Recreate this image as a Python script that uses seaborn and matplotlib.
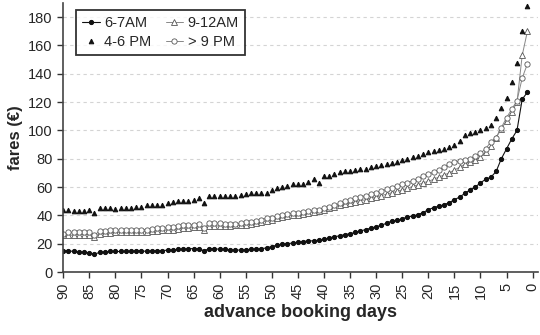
import numpy as np
import pandas as pd
import seaborn as sns
import matplotlib.pyplot as plt

# advance booking days, 90 down to 1
days = list(range(90, 0, -1))

am_6_7 = [15, 15, 14.5, 14, 14, 13.5, 12.5, 14, 14, 14.5,
          14.5, 14.5, 14.5, 14.5, 15, 15, 14.5, 15, 15, 15,
          15.5, 15.5, 16, 16, 16.5, 16.5, 16.5, 15, 16.5, 16.5,
          16, 16, 15.5, 15.5, 15.5, 15.5, 16, 16, 16.5, 17,
          18, 19, 19.5, 20, 20.5, 21, 21.5, 22, 22, 22.5,
          23, 24, 25, 25.5, 26.5, 27, 28, 29, 30, 31,
          32, 33, 34.5, 36, 36.5, 37.5, 39, 39.5, 40.5, 42,
          44, 45.5, 46.5, 47.5, 49, 51, 53, 55.5, 58, 60,
          63, 65.5, 67, 71, 80, 87, 94, 100, 122, 127]

am_9_12 = [26, 26, 26, 26.5, 26.5, 26.5, 25, 27, 27.5, 27.5,
           28, 28, 28, 28, 28.5, 28.5, 28.5, 29, 29, 29.5,
           29.5, 30, 30.5, 31, 31, 31.5, 32, 29.5, 32.5, 32.5,
           32.5, 32.5, 32.5, 33, 33, 33.5, 34, 34.5, 35.5, 36,
           37, 38, 39, 39.5, 40, 40.5, 41, 42, 42.5, 43,
           44, 45, 46, 47, 48, 48.5, 49.5, 50.5, 51, 52,
           53, 54, 55, 56, 57, 58, 59, 60.5, 61.5, 63,
           64, 65.5, 67, 68.5, 70, 72, 74, 76, 78, 79,
           81, 85, 89, 95, 101, 107, 113, 120, 153, 170]

pm_4_6 = [44, 43.5, 43, 43, 43, 44, 41.5, 45, 45, 45,
          44.5, 45, 45, 45, 46, 46, 47, 47, 47, 47,
          49, 49.5, 50, 50, 50.5, 51, 52, 49, 53.5, 53.5,
          53.5, 53.5, 53.5, 54, 54.5, 55, 55.5, 55.5, 55.5, 56,
          58, 59, 60, 61, 62, 62, 62.5, 63.5, 65.5, 63,
          67.5, 68, 69.5, 70.5, 71, 71.5, 72, 72.5, 73, 74,
          75, 75.5, 76, 77, 78, 79, 80, 81, 82, 83.5,
          85, 85.5, 86, 87, 88, 90, 92.5, 96.5, 98, 99,
          100, 101.5, 104, 109, 116, 123, 134, 147.5, 170, 188]

pm_9 = [27, 28, 28, 28, 28, 28, 26, 29, 29, 29.5,
        29.5, 29.5, 29.5, 29.5, 30, 30, 30, 30.5, 31, 31,
        31.5, 32, 32.5, 33, 33, 33.5, 34, 31, 34.5, 34.5,
        34.5, 34, 34, 34, 34.5, 35, 35.5, 36, 37, 38,
        38.5, 39.5, 40.5, 41, 41.5, 42, 42.5, 43, 43.5, 44,
        45, 46, 47, 48.5, 50, 51, 52, 53, 54, 55,
        56, 57, 58.5, 59.5, 60.5, 62, 63, 64.5, 66, 67.5,
        69, 70.5, 72, 74, 76, 77.5, 78.5, 79, 80, 82,
        84, 87, 92, 95, 102, 109, 115, 121, 137, 147]

df = pd.DataFrame({"days": days, "6-7AM": am_6_7, "9-12AM": am_9_12,
                   "4-6 PM": pm_4_6, "> 9 PM": pm_9})

sns.set_style("white")
plt.rcParams["font.family"] = ["Liberation Sans", "DejaVu Sans"]

fig = plt.figure(figsize=(5.4, 3.35), dpi=100)
ax = fig.add_axes([0.117, 0.188, 0.879, 0.803])

ax.yaxis.grid(True, color="#d4d4d4", linestyle=(0, (3, 3)), linewidth=0.8)
ax.set_axisbelow(True)

sns.lineplot(data=df, x="days", y="6-7AM", ax=ax, color="#111111", lw=0.8,
             marker="o", markersize=3, markeredgecolor="#111111",
             label="6-7AM")
sns.lineplot(data=df, x="days", y="9-12AM", ax=ax, color="#888888", lw=0.7,
             marker="^", markersize=3.8, markerfacecolor="white",
             markeredgecolor="#555555", markeredgewidth=0.6, label="9-12AM")
sns.lineplot(data=df, x="days", y="4-6 PM", ax=ax, color="#111111",
             linestyle="", marker="^", markersize=3.3,
             markeredgecolor="#111111", label="4-6 PM")
sns.lineplot(data=df, x="days", y="> 9 PM", ax=ax, color="#888888", lw=0.7,
             marker="o", markersize=3.8, markerfacecolor="white",
             markeredgecolor="#555555", markeredgewidth=0.6, label="> 9 PM")

ax.set_xlim(90, -1)
ax.set_ylim(0, 190)
ax.set_xticks(range(90, -1, -5))
ax.set_yticks(range(0, 181, 20))
ax.tick_params(axis="x", labelrotation=90, labelsize=10.5, length=4,
               width=1, direction="out", bottom=True, color="#333333")
ax.tick_params(axis="y", labelsize=10.5, length=4, width=1,
               direction="out", left=True, color="#333333")
for s in ["top", "right"]:
    ax.spines[s].set_visible(False)
for s in ["left", "bottom"]:
    ax.spines[s].set_color("#444444")
    ax.spines[s].set_linewidth(1.2)

ax.set_xlabel("advance booking days", fontsize=13, fontweight="bold")
ax.set_ylabel("fares (€)", fontsize=12, fontweight="bold", labelpad=4)

h, l = ax.get_legend_handles_labels()
order = [0, 2, 1, 3]
leg = ax.legend([h[i] for i in order], [l[i] for i in order], ncol=2,
                loc="upper left", bbox_to_anchor=(0.012, 1.0),
                fontsize=10.5, frameon=True, fancybox=False,
                handlelength=1.2, handletextpad=0.3, columnspacing=1.0,
                borderpad=0.4, labelspacing=0.35)
leg.get_frame().set_edgecolor("black")
leg.get_frame().set_linewidth(1.3)

fig.savefig("out.png", dpi=100)
